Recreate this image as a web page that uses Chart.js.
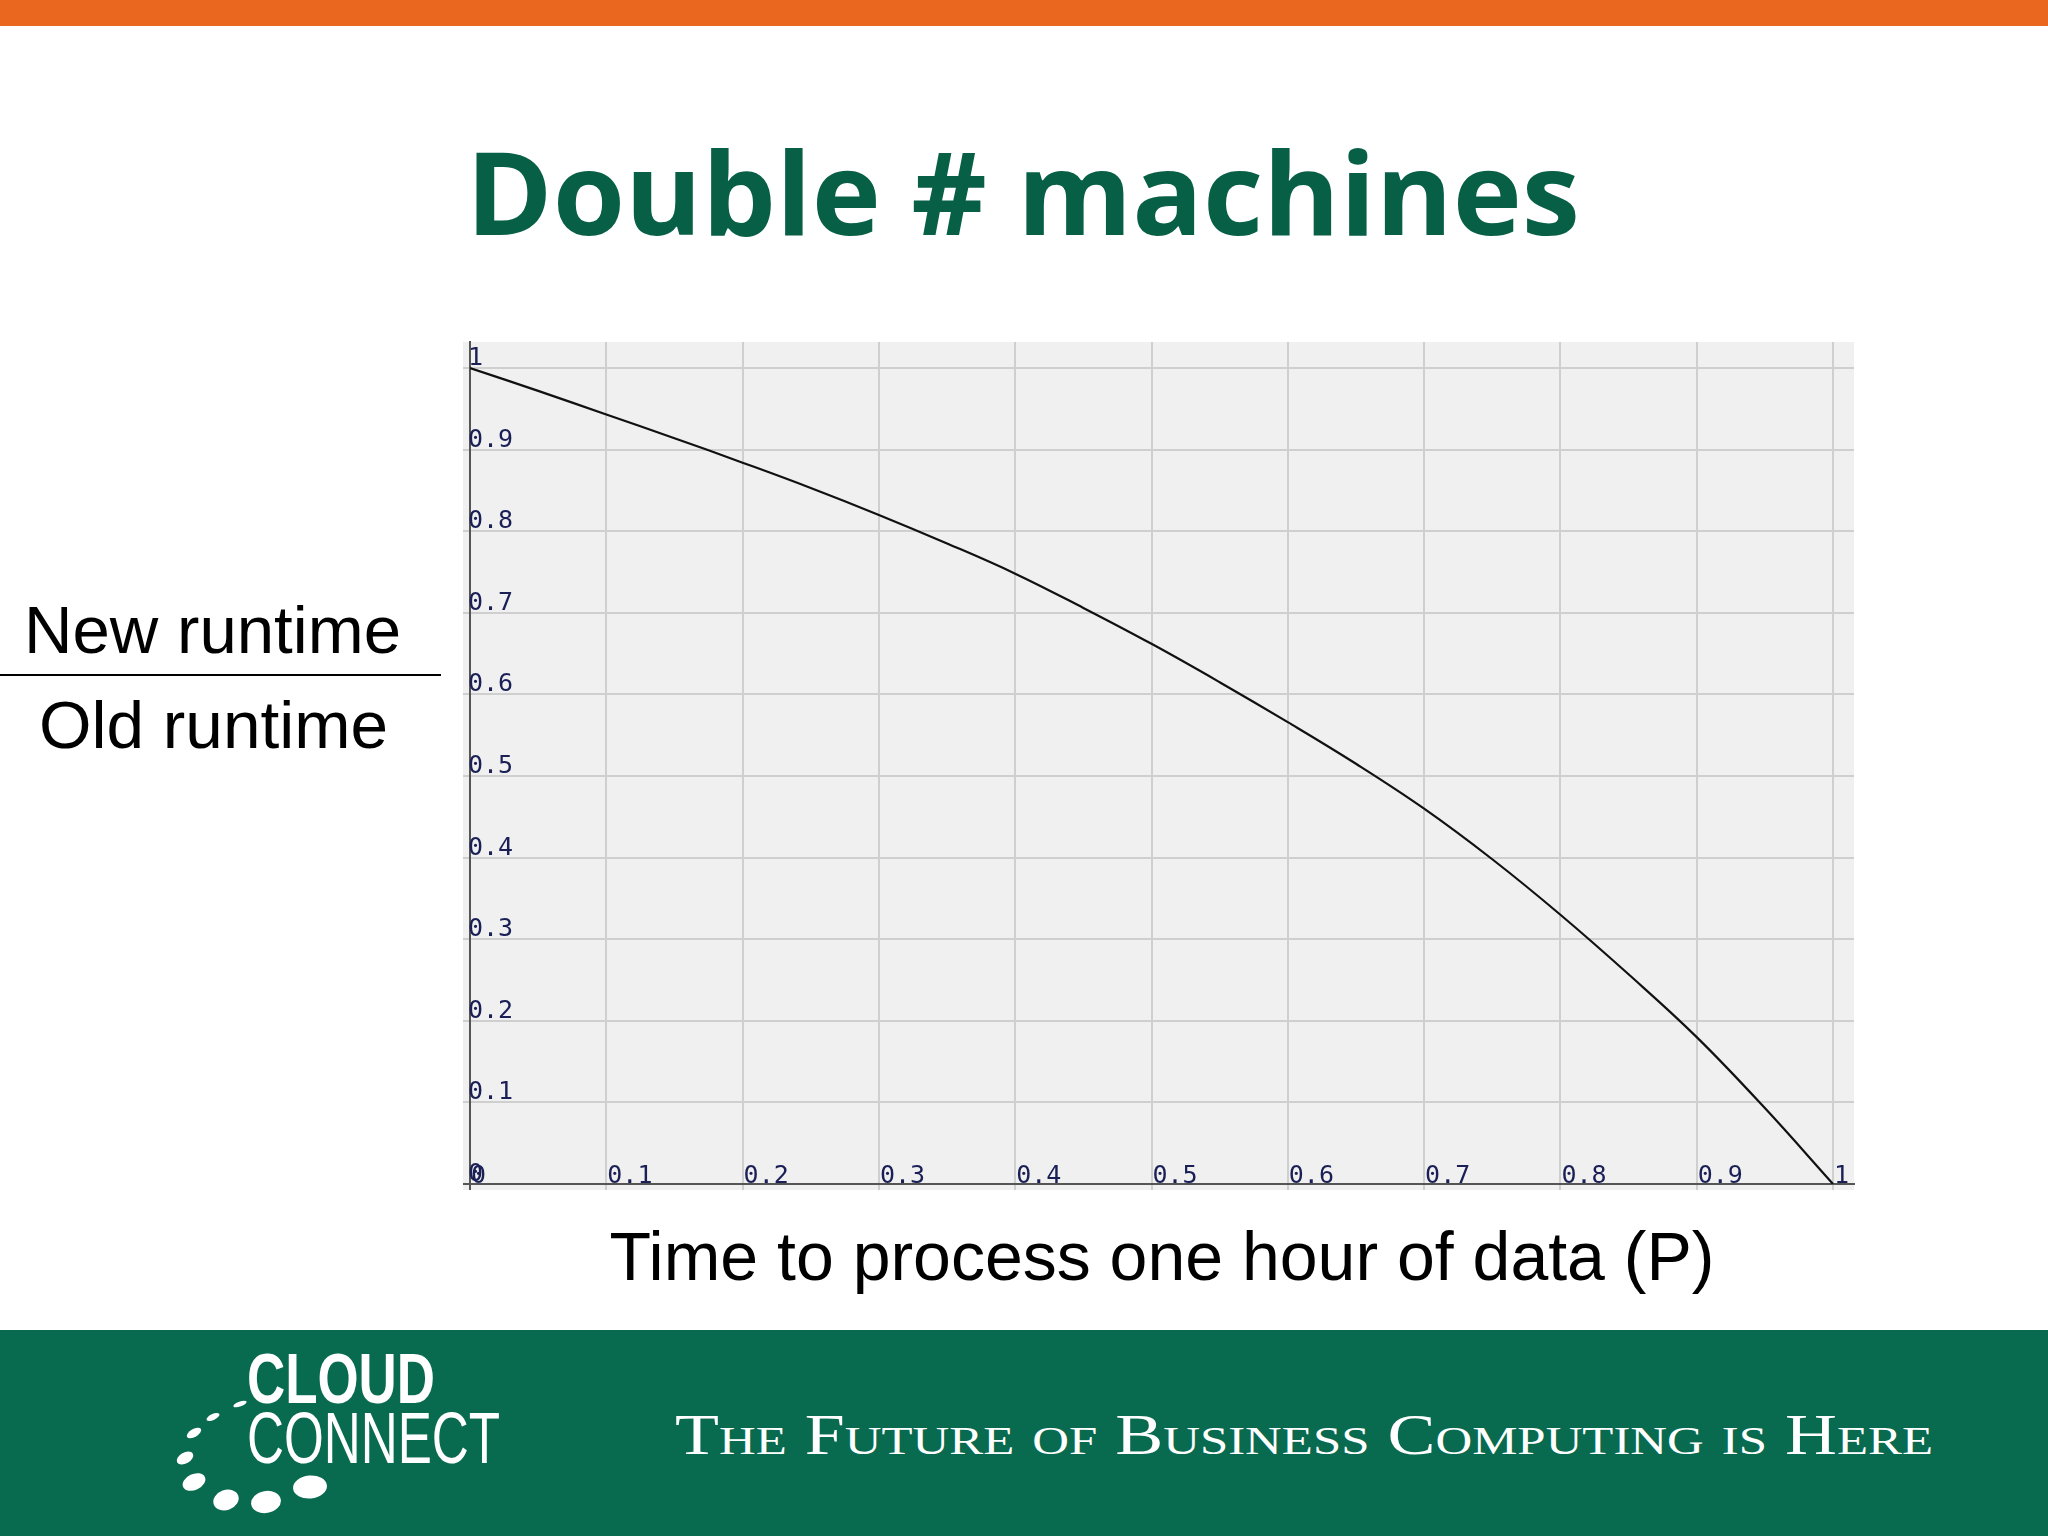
<!DOCTYPE html>
<html>
<head>
<meta charset="utf-8">
<script src="https://cdn.jsdelivr.net/npm/chart.js@4.4.1/dist/chart.umd.min.js"></script>
<style>
html, body { margin: 0; padding: 0; background: #ffffff; }
body { width: 2048px; height: 1536px; position: relative; overflow: hidden; }
#deco { position: absolute; left: 0; top: 0; }
#wrap { position: absolute; left: 0; top: 0; width: 2048px; height: 1330px; }
</style>
</head>
<body>
<svg id="deco" width="2048" height="1536" xmlns="http://www.w3.org/2000/svg">
  <rect x="0" y="0" width="2048" height="26" fill="#e9671e"/>
  <text x="466" y="235" font-family="Open Sans" font-weight="700" font-size="115" fill="#075f46"
        textLength="1114" lengthAdjust="spacingAndGlyphs">Double # machines</text>
  <text x="24" y="653" font-family="Liberation Sans" font-size="66" fill="#000"
        textLength="377" lengthAdjust="spacingAndGlyphs">New runtime</text>
  <rect x="0" y="674" width="441" height="2" fill="#000"/>
  <text x="39" y="748" font-family="Liberation Sans" font-size="66" fill="#000"
        textLength="349" lengthAdjust="spacingAndGlyphs">Old runtime</text>
  <rect x="0" y="1330" width="2048" height="206" fill="#086a4f"/>
  <g fill="#ffffff">
    <ellipse cx="240" cy="1404" rx="7" ry="2.5" transform="rotate(-20 240 1404)"/>
    <ellipse cx="213" cy="1417" rx="7" ry="3" transform="rotate(-25 213 1417)"/>
    <ellipse cx="194" cy="1433" rx="8" ry="4" transform="rotate(-30 194 1433)"/>
    <ellipse cx="185" cy="1458" rx="9" ry="5.5" transform="rotate(-30 185 1458)"/>
    <ellipse cx="194" cy="1482" rx="12" ry="8" transform="rotate(-25 194 1482)"/>
    <ellipse cx="226" cy="1500" rx="13" ry="10" transform="rotate(-20 226 1500)"/>
    <ellipse cx="266" cy="1502" rx="15" ry="11" transform="rotate(-10 266 1502)"/>
    <ellipse cx="310" cy="1487" rx="17" ry="11.5" transform="rotate(-5 310 1487)"/>
  </g>
  <text x="247" y="1403" font-family="Liberation Sans Narrow, Liberation Sans" font-weight="700" font-size="70" fill="#fff"
        textLength="188" lengthAdjust="spacingAndGlyphs">CLOUD</text>
  <text x="247" y="1463" font-family="Liberation Sans Narrow, Liberation Sans" font-weight="400" font-size="72" fill="#fff"
        textLength="253" lengthAdjust="spacingAndGlyphs">CONNECT</text>
  <text x="675" y="1454" font-family="Liberation Serif" font-size="58" fill="#fff" style="font-variant: small-caps;"
        textLength="1258" lengthAdjust="spacingAndGlyphs">The Future of Business Computing is Here</text>
</svg>
<div id="wrap"><canvas id="c"></canvas></div>
<script>
// ---- data ----
const pValues = [0, 0.05, 0.1, 0.15, 0.2, 0.25, 0.3, 0.35, 0.4, 0.45, 0.5,
                 0.55, 0.6, 0.65, 0.7, 0.75, 0.8, 0.85, 0.9, 0.95, 1];
const ratioValues = [1.0, 0.972, 0.943, 0.914, 0.884, 0.853, 0.82, 0.785, 0.748, 0.706, 0.662,
                     0.615, 0.566, 0.515, 0.46, 0.398, 0.33, 0.257, 0.18, 0.093, 0];
const tickValues = [0, 0.1, 0.2, 0.3, 0.4, 0.5, 0.6, 0.7, 0.8, 0.9, 1];
const tickLabels = ['0', '0.1', '0.2', '0.3', '0.4', '0.5', '0.6', '0.7', '0.8', '0.9', '1'];
const xAxisTitle = 'Time to process one hour of data (P)';

const points = pValues.map((p, i) => ({ x: p, y: ratioValues[i] }));

const panelPlugin = {
  id: 'panel',
  beforeDraw(chart) {
    const { ctx, chartArea: a } = chart;
    ctx.save();
    ctx.fillStyle = '#f0f0f0';
    ctx.fillRect(a.left - 7, a.top, a.right - a.left + 7, a.bottom - a.top + 6);
    ctx.restore();
  }
};

const gridColor = (c) => (c.tick && c.tick.value === 0) ? '#555555' : '#cfcfcf';
const setTicks = (s) => { s.ticks = tickValues.map(v => ({ value: v })); };

new Chart(document.getElementById('c'), {
  type: 'line',
  data: {
    datasets: [{
      data: points,
      borderColor: '#111111',
      borderWidth: 2.2,
      pointRadius: 0,
      tension: 0.4,
      fill: false
    }]
  },
  options: {
    responsive: true,
    maintainAspectRatio: false,
    animation: false,
    layout: { autoPadding: false, padding: { left: 463, top: 342, right: 194, bottom: 0 } },
    plugins: { legend: { display: false }, tooltip: { enabled: false } },
    scales: {
      x: {
        type: 'linear', min: 0, max: 1.0154, bounds: 'data',
        afterBuildTicks: setTicks,
        afterFit: (s) => { s.height = 146; },
        grid: { color: gridColor, lineWidth: 2, tickLength: 6 },
        border: { color: '#555555', width: 2 },
        ticks: {
          mirror: true, align: 'start', padding: -5, labelOffset: 1,
          autoSkip: false, maxRotation: 0, color: '#1a1f55',
          font: { family: 'DejaVu Sans Mono', size: 25, lineHeight: 1 },
          callback: (v, i) => tickLabels[i]
        },
        title: {
          display: true, text: xAxisTitle, color: '#000000',
          font: { family: 'Liberation Sans', size: 68, lineHeight: 1 },
          padding: { top: 0, bottom: 35 }
        }
      },
      y: {
        type: 'linear', min: 0, max: 1.0319, bounds: 'data',
        afterBuildTicks: setTicks,
        afterFit: (s) => { s.width = 7; },
        grid: { color: gridColor, lineWidth: 2, tickLength: 7 },
        border: { color: '#555555', width: 2 },
        ticks: {
          mirror: true, align: 'end', padding: -2, labelOffset: 3,
          autoSkip: false, color: '#1a1f55',
          font: { family: 'DejaVu Sans Mono', size: 25 },
          callback: (v, i) => tickLabels[i]
        }
      }
    }
  },
  plugins: [panelPlugin]
});
</script>
</body>
</html>
